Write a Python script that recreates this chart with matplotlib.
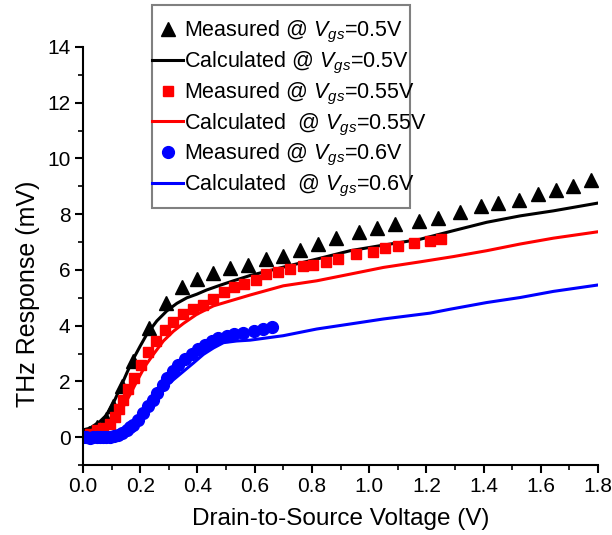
import numpy as np
import matplotlib
matplotlib.use('Agg')
import matplotlib.pyplot as plt
from matplotlib.patches import Rectangle
from matplotlib.legend_handler import HandlerLine2D

plt.rcParams['font.family'] = ['Liberation Sans', 'DejaVu Sans']
plt.rcParams['mathtext.fontset'] = 'custom'
plt.rcParams['mathtext.rm'] = 'Liberation Sans'
plt.rcParams['mathtext.it'] = 'Liberation Sans:italic'

# --- measured data ---
meas_05_x = [0.02, 0.05, 0.08, 0.105, 0.135, 0.176, 0.232, 0.29, 0.345, 0.40, 0.456, 0.513, 0.578,
             0.64, 0.698, 0.759, 0.823, 0.885, 0.963, 1.027, 1.091, 1.174, 1.242, 1.318, 1.392,
             1.45, 1.525, 1.589, 1.654, 1.712, 1.776]
meas_05_y = [0.15, 0.35, 0.65, 1.1, 1.82, 2.73, 3.93, 4.8, 5.37, 5.69, 5.88, 6.06, 6.19,
             6.39, 6.51, 6.72, 6.93, 7.14, 7.35, 7.49, 7.65, 7.75, 7.85, 8.09, 8.3,
             8.4, 8.52, 8.72, 8.87, 9.02, 9.24]

meas_055_x = [0.025, 0.048, 0.071, 0.094, 0.112, 0.127, 0.141, 0.158, 0.178, 0.202, 0.228, 0.255,
              0.287, 0.316, 0.351, 0.384, 0.418, 0.456, 0.493, 0.528, 0.563, 0.603, 0.64, 0.683,
              0.724, 0.768, 0.805, 0.85, 0.893, 0.955, 1.015, 1.056, 1.1, 1.158, 1.212, 1.25]
meas_055_y = [0.12, 0.24, 0.32, 0.48, 0.74, 1.0, 1.34, 1.73, 2.12, 2.58, 3.05, 3.45,
              3.83, 4.13, 4.41, 4.59, 4.73, 4.97, 5.22, 5.37, 5.5, 5.65, 5.85, 5.93,
              6.05, 6.13, 6.17, 6.29, 6.41, 6.57, 6.63, 6.77, 6.87, 6.96, 7.04, 7.1]

meas_06_x = [0.0, 0.012, 0.024, 0.036, 0.048, 0.059, 0.07, 0.082, 0.094, 0.108, 0.123, 0.138,
             0.153, 0.165, 0.176, 0.193, 0.211, 0.228, 0.244, 0.26, 0.279, 0.295, 0.313, 0.333,
             0.357, 0.38, 0.403, 0.427, 0.45, 0.473, 0.502, 0.528, 0.558, 0.596, 0.63, 0.662]
meas_06_y = [0.0, 0.0, -0.02, 0.0, 0.0, 0.0, 0.0, 0.01, 0.02, 0.05, 0.08, 0.16,
             0.26, 0.35, 0.44, 0.62, 0.86, 1.1, 1.34, 1.58, 1.88, 2.12, 2.36, 2.6,
             2.81, 3.0, 3.18, 3.3, 3.45, 3.57, 3.63, 3.69, 3.75, 3.81, 3.88, 3.94]

# --- calculated curves ---
calc_05_x = [0.0, 0.024, 0.059, 0.083, 0.106, 0.13, 0.153, 0.176, 0.2, 0.223, 0.258, 0.293, 0.328,
             0.363, 0.398, 0.432, 0.479, 0.526, 0.584, 0.7, 0.817, 0.934, 1.05, 1.178, 1.295,
             1.411, 1.528, 1.644, 1.8]
calc_05_y = [0.26, 0.32, 0.56, 0.8, 1.22, 1.76, 2.3, 2.81, 3.27, 3.69, 4.17, 4.53, 4.8,
             5.0, 5.13, 5.28, 5.45, 5.61, 5.8, 6.1, 6.39, 6.69, 6.89, 7.1, 7.41,
             7.71, 7.94, 8.12, 8.4]

calc_055_x = [0.03, 0.071, 0.106, 0.141, 0.164, 0.188, 0.217, 0.246, 0.281, 0.316, 0.351, 0.398,
              0.456, 0.515, 0.584, 0.7, 0.817, 0.934, 1.05, 1.178, 1.295, 1.411, 1.528, 1.644, 1.8]
calc_055_y = [0.15, 0.38, 0.62, 1.1, 1.52, 2.0, 2.55, 2.97, 3.45, 3.8, 4.08, 4.41,
              4.71, 4.89, 5.1, 5.43, 5.61, 5.85, 6.09, 6.29, 6.48, 6.69, 6.93, 7.14, 7.37]

calc_06_x = [0.0, 0.059, 0.106, 0.141, 0.176, 0.211, 0.246, 0.281, 0.316, 0.351, 0.386, 0.421,
             0.456, 0.491, 0.537, 0.584, 0.7, 0.817, 0.934, 1.05, 1.213, 1.283, 1.411, 1.528,
             1.644, 1.8]
calc_06_y = [-0.04, 0.0, 0.08, 0.26, 0.56, 0.98, 1.4, 1.76, 2.06, 2.36, 2.66, 2.97,
             3.2, 3.39, 3.45, 3.48, 3.64, 3.88, 4.06, 4.24, 4.45, 4.59, 4.83, 5.01,
             5.23, 5.46]


class LeftMarker(HandlerLine2D):
    # put the single legend marker left of the handle centre
    def get_xdata(self, legend, xdescent, ydescent, width, height, fontsize):
        xd = np.array([-xdescent, -xdescent + width])
        xm = np.array([-xdescent + 0.25 * width])
        return xd, xm


fig = plt.figure(figsize=(6.12, 5.35), dpi=100)
ax = fig.add_axes([83 / 612, 1 - 465 / 535, (598 - 83) / 612, (465 - 47) / 535])

ax.plot(meas_05_x, meas_05_y, '^', color='black', ms=10.5, label='Measured @ $V_{gs}$=0.5V')
ax.plot(calc_05_x, calc_05_y, '-', color='black', lw=2.2, label='Calculated @ $V_{gs}$=0.5V')
ax.plot(meas_055_x, meas_055_y, 's', color='#ff0000', ms=7.5, label='Measured @ $V_{gs}$=0.55V')
ax.plot(calc_055_x, calc_055_y, '-', color='#ff0000', lw=2.2, label='Calculated  @ $V_{gs}$=0.55V')
ax.plot(meas_06_x, meas_06_y, 'o', color='#0000ff', ms=8.5, label='Measured @ $V_{gs}$=0.6V')
ax.plot(calc_06_x, calc_06_y, '-', color='#0000ff', lw=2.2, label='Calculated  @ $V_{gs}$=0.6V')

ax.set_xlim(0, 1.8)
ax.set_ylim(-1, 14)
ax.set_xticks(np.arange(0, 1.81, 0.2))
ax.set_xticks(np.arange(0, 1.81, 0.1), minor=True)
ax.set_yticks(np.arange(0, 14.1, 2))
ax.set_yticks(np.arange(-1, 14.1, 1), minor=True)
ax.xaxis.set_major_formatter(matplotlib.ticker.FormatStrFormatter('%.1f'))
ax.spines['top'].set_visible(False)
ax.spines['right'].set_visible(False)
for s in ['left', 'bottom']:
    ax.spines[s].set_linewidth(1.5)
ax.tick_params(which='major', direction='out', length=6, width=1.5, labelsize=15, pad=3)
ax.tick_params(which='minor', direction='out', length=3.5, width=1.2)

ax.set_xlabel('Drain-to-Source Voltage (V)', fontsize=17.5, labelpad=8)
ax.set_ylabel('THz Response (mV)', fontsize=18)
ax.yaxis.set_label_coords(-0.083, 0.41)

# legend box drawn separately so the handle lines touch its left edge
W, H = 612, 535
fig.patches.append(Rectangle((152 / W, 1 - 208 / H), (410 - 152) / W, (208 - 5) / H,
                             transform=fig.transFigure, facecolor='white',
                             edgecolor='#808080', linewidth=1.5, zorder=5))
leg = fig.legend(loc='upper left', bbox_to_anchor=(152 / W, 1 - 19 / H),
                 fontsize=15.5, frameon=False, handlelength=1.45, handletextpad=0.05,
                 labelspacing=0.22, borderpad=0, borderaxespad=0,
                 handler_map={matplotlib.lines.Line2D: LeftMarker(numpoints=1)})
leg.set_zorder(6)

fig.savefig('out.png', dpi=100)
